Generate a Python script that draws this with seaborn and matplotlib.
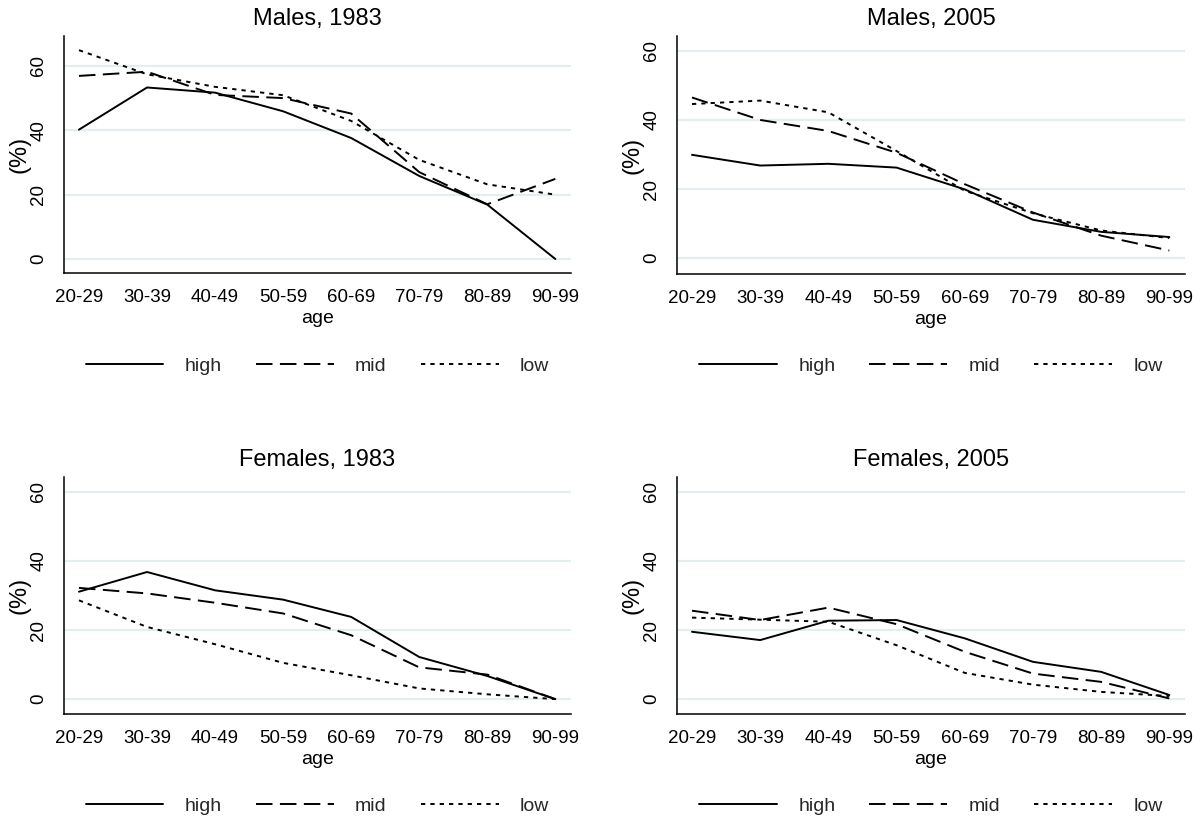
import matplotlib
matplotlib.use("Agg")
import matplotlib.pyplot as plt
import seaborn as sns
import pandas as pd
from matplotlib.lines import Line2D

ages = ["20-29", "30-39", "40-49", "50-59", "60-69", "70-79", "80-89", "90-99"]
levels = ["high", "mid", "low"]

males_1983_high = [40.2, 53.3, 51.7, 45.9, 37.6, 25.8, 16.9, 0.0]
males_1983_mid = [56.9, 58.2, 51.0, 50.0, 45.2, 27.0, 17.0, 24.9]
males_1983_low = [64.9, 57.4, 53.5, 50.9, 42.9, 30.8, 23.2, 20.0]

males_2005_high = [29.9, 26.8, 27.3, 26.2, 19.9, 11.1, 7.6, 6.1]
males_2005_mid = [46.5, 40.0, 36.8, 30.5, 21.4, 13.2, 6.5, 2.2]
males_2005_low = [44.6, 45.6, 42.2, 31.0, 19.5, 13.0, 8.0, 5.8]

females_1983_high = [31.1, 36.8, 31.5, 28.8, 23.8, 12.2, 6.7, 0.0]
females_1983_mid = [32.2, 30.6, 27.9, 24.8, 18.5, 9.2, 7.1, 0.0]
females_1983_low = [28.6, 20.9, 15.9, 10.5, 6.9, 3.1, 1.4, 0.0]

females_2005_high = [19.5, 17.1, 22.7, 22.9, 17.6, 10.8, 7.9, 1.2]
females_2005_mid = [25.6, 22.9, 26.5, 21.7, 13.7, 7.4, 5.0, 0.2]
females_2005_low = [23.6, 23.0, 22.4, 15.6, 7.6, 4.2, 2.1, 0.9]

titles = ["Males, 1983", "Males, 2005", "Females, 1983", "Females, 2005"]
panel_series = [
    (males_1983_high, males_1983_mid, males_1983_low),
    (males_2005_high, males_2005_mid, males_2005_low),
    (females_1983_high, females_1983_mid, females_1983_low),
    (females_2005_high, females_2005_mid, females_2005_low),
]
y_ticks = [0, 20, 40, 60]

sns.set_theme(style="white")
plt.rcParams["font.family"] = ["Liberation Sans", "DejaVu Sans"]

LW = 1.4
dash_map = {"high": "", "mid": (8.5, 3.8), "low": (2.2, 2.6)}
grid_color = "#e4edf0"

fig = plt.figure(figsize=(12, 8.27), dpi=100)
W, H = 1200.0, 827.0
# (left, top, right, bottom) in pixels, y-limits, legend centre y in pixels
positions = [
    (64, 36, 571, 273, (-4.35, 69.3), 366),
    (677, 36, 1185, 274, (-4.6, 64.3), 366),
    (64, 477, 571, 714, (-4.3, 64.3), 806),
    (677, 477, 1185, 714, (-4.3, 64.3), 806),
]

for (x0, y0, x1, y1, ylim, leg_y), title, series in zip(positions, titles, panel_series):
    ax = fig.add_axes([x0 / W, 1 - y1 / H, (x1 - x0) / W, (y1 - y0) / H])
    rows = []
    for lvl, vals in zip(levels, series):
        for a, v in zip(ages, vals):
            rows.append({"age": a, "ses": lvl, "pct": v})
    df = pd.DataFrame(rows)
    for yt in y_ticks:
        ax.axhline(yt, color=grid_color, lw=1.6, zorder=0)
    sns.lineplot(data=df, x="age", y="pct", style="ses", style_order=levels,
                 dashes=dash_map, color="black", lw=LW, sort=False,
                 legend=False, ax=ax, estimator=None)
    ax.set_xlim(-0.22, 7.23)
    ax.set_ylim(*ylim)
    ax.set_yticks(y_ticks)
    ax.set_xticks(range(len(ages)))
    ax.set_xticklabels(ages)
    for lab in ax.get_yticklabels():
        lab.set_rotation(90)
        lab.set_va("center")
    ax.tick_params(axis="both", which="major", direction="out", length=6,
                   width=1.1, color="black", labelsize=13.5, labelcolor="black")
    ax.tick_params(axis="y", pad=6)
    ax.tick_params(axis="x", pad=5.5)
    for s in ["top", "right"]:
        ax.spines[s].set_visible(False)
    for s in ["left", "bottom"]:
        ax.spines[s].set_color("black")
        ax.spines[s].set_linewidth(1.1)
    ax.set_xlabel("age", fontsize=14, labelpad=3, color="black")
    ax.set_ylabel("(%)", fontsize=17, labelpad=0, color="black")
    ax.set_title(title, fontsize=17, pad=8, color="black")
    ax.grid(False)
    handles = []
    for l in levels:
        if dash_map[l]:
            h = Line2D([], [], color="black", lw=LW, linestyle=(0, dash_map[l]))
        else:
            h = Line2D([], [], color="black", lw=LW, linestyle="-")
        handles.append(h)
    ax.legend(handles, levels, loc="center",
              bbox_to_anchor=(0.5, -(leg_y - y1) / (y1 - y0)),
              ncol=3, frameon=False, fontsize=14, handlelength=4.0,
              handletextpad=1.1, columnspacing=1.75)

fig.savefig("out.png", dpi=100, facecolor="white")
